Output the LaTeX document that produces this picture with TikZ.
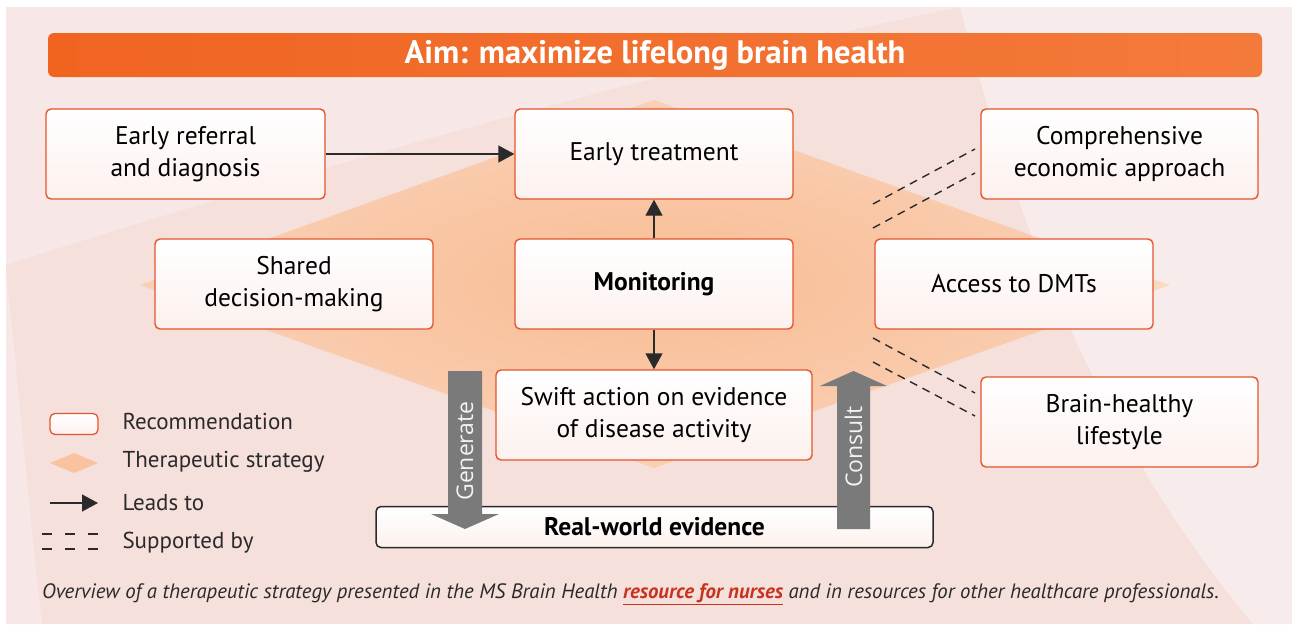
\documentclass[tikz,border=0pt]{standalone}
\usepackage{fontspec}
\setmainfont{PT Sans}
\newfontfamily\genfont{Open Sans}
\usetikzlibrary{arrows.meta,shapes.geometric}
\definecolor{bgpink}{HTML}{F5E0DC}
\definecolor{bglight}{HTML}{F7E7E6}
\definecolor{diacol}{HTML}{F9C3A0}
\definecolor{diain}{HTML}{F8BC93}
\definecolor{diaout}{HTML}{FAD0B5}
\definecolor{recborder}{HTML}{E4552C}
\definecolor{boxbot}{HTML}{FCF1EE}
\definecolor{bannerL}{HTML}{F06420}
\definecolor{bannerR}{HTML}{F47A3C}
\definecolor{arrgray}{HTML}{7A7A7A}
\definecolor{inkcol}{HTML}{2A2A2A}
\definecolor{linkred}{HTML}{C8321E}
\tikzset{
  recbox/.style={draw=recborder, line width=1.4pt, rounded corners=5pt,
    top color=white, bottom color=boxbot, minimum height=90pt,
    align=center, inner sep=0pt, text=black,
    font=\fontsize{25.5}{32}\selectfont},
  leads/.style={draw=inkcol, line width=1.4pt, -{Triangle[length=16pt,width=17pt]}},
  support/.style={draw=inkcol, line width=1.4pt, dash pattern=on 8pt off 6pt},
  legtext/.style={anchor=west, font=\fontsize{23}{26}\selectfont, text=inkcol},
  bigarrow/.style={fill=arrgray},
  arrlabel/.style={rotate=90, text=white!90!gray, font=\genfont\fontsize{23}{24}\selectfont}
}
\begin{document}
\begin{tikzpicture}[x=1pt,y=-1pt]
\useasboundingbox (0,0) rectangle (1292,624);
% background
\fill[white] (0,0) rectangle (1292,624);
\fill[bgpink] (6,7) rectangle (1292,624);
\fill[bglight] (6,7) -- (1292,7) -- (1292,624) -- (1253,624)
  .. controls (1150,500) and (1040,320) .. (960,7) -- cycle;
\fill[bglight] (6,7) -- (960,7) .. controls (700,60) and (300,170) .. (6,265) -- cycle;
\fill[bglight] (6,270) .. controls (20,400) and (30,520) .. (42,624) -- (6,624) -- cycle;
% therapeutic strategy diamond
\shade[inner color=diain, outer color=diaout] (654,100) -- (1170,285) -- (654,468) -- (140,285) -- cycle;
\fill[white, opacity=0.2] (1292,7) -- (1292,624) -- (1253,624)
  .. controls (1150,500) and (1040,320) .. (960,7) -- cycle;
% title banner
\node[rounded corners=6pt, left color=bannerL, right color=bannerR,
  minimum width=1214pt, minimum height=44pt, inner sep=0pt,
  text=white, font=\bfseries\fontsize{32.5}{33}\selectfont] (aim) at (655,55)
  {Aim: maximize lifelong brain health};
% recommendation boxes
\node[recbox, minimum width=279pt] (ref) at (185.5,154) {Early referral\\and diagnosis};
\node[recbox, minimum width=278pt] (treat) at (654,154) {Early treatment};
\node[recbox, minimum width=277pt] (econ) at (1119.5,154) {Comprehensive\\economic approach};
\node[recbox, minimum width=278pt] (shared) at (294,284) {Shared\\decision-making};
\node[recbox, minimum width=278pt, font=\bfseries\fontsize{25.5}{32}\selectfont] (mon) at (654,284) {Monitoring};
\node[recbox, minimum width=278pt] (dmt) at (1014,284) {Access to DMTs};
\node[recbox, minimum width=316pt] (swift) at (654,415) {Swift action on evidence\\of disease activity};
\node[recbox, minimum width=277pt] (brain) at (1119.5,422) {Brain-healthy\\lifestyle};
\node[draw=inkcol, line width=1.5pt, rounded corners=5pt, top color=white, bottom color=boxbot,
  minimum width=557pt, minimum height=41pt, inner sep=0pt,
  font=\bfseries\fontsize{25.5}{28}\selectfont] (rwe) at (654.5,527) {Real-world evidence};
% leads-to arrows
\draw[leads] (ref.east) -- (treat.west);
\draw[leads] (mon.north) -- (treat.south);
\draw[leads] (mon.south) -- (swift.north);
% supported-by dashed lines
\coordinate (e1) at (873,204); \coordinate (e1b) at (975,149);
\coordinate (e2) at (873,228); \coordinate (e2b) at (975,173);
\coordinate (b1) at (873,338); \coordinate (b1b) at (975,393);
\coordinate (b2) at (873,362); \coordinate (b2b) at (975,416);
\draw[support] (e1) -- (e1b);
\draw[support] (e2) -- (e2b);
\draw[support] (b1) -- (b1b);
\draw[support] (b2) -- (b2b);
% generate / consult arrows
\fill[bigarrow] (448,371) -- (482,371) -- (482,514) -- (499,514) -- (465,529)
  -- (431,514) -- (448,514) -- cycle;
\node[arrlabel] (gen) at (465,451) {Generate};
\fill[bigarrow] (837,529) -- (837,386) -- (820,386) -- (853.5,371) -- (887,386)
  -- (870,386) -- (870,529) -- cycle;
\node[arrlabel] (con) at (853.5,447) {Consult};
% legend
\node[draw=recborder, line width=1.3pt, rounded corners=5pt, top color=white, bottom color=boxbot,
  minimum width=48pt, minimum height=21pt, inner sep=0pt] (lrec) at (74,424) {};
\fill[diacol] (50,463) -- (74,453) -- (98,463) -- (74,473) -- cycle;
\coordinate (la) at (50,503); \coordinate (lb) at (98,503);
\draw[leads] (la) -- (lb);
\coordinate (s1) at (42,534); \coordinate (s1b) at (98,534);
\coordinate (s2) at (42,549); \coordinate (s2b) at (98,549);
\draw[inkcol, line width=1.6pt, dash pattern=on 10pt off 13pt] (s1) -- (s1b);
\draw[inkcol, line width=1.6pt, dash pattern=on 10pt off 13pt] (s2) -- (s2b);
\node[legtext] (t1) at (119,421) {Recommendation};
\node[legtext] (t2) at (119,462) {Therapeutic strategy};
\node[legtext] (t3) at (119,503) {Leads to};
\node[legtext] (t4) at (119,543) {Supported by};
% caption
\node[anchor=west, inner sep=0pt, font=\itshape\fontsize{20.8}{24}\selectfont, text=inkcol] (cap) at (42,594)
  {Overview of a therapeutic strategy presented in the MS Brain Health {\color{linkred}\bfseries\underline{resource for nurses}} and in resources for other healthcare professionals.};
\end{tikzpicture}
\end{document}
